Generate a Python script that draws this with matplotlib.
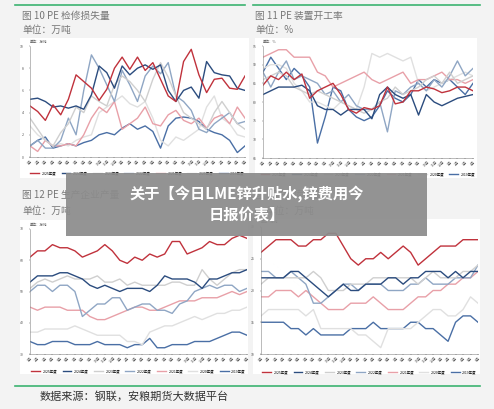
import matplotlib
matplotlib.use("Agg")
import matplotlib.pyplot as plt
import numpy as np
from matplotlib.patches import Rectangle
from matplotlib.lines import Line2D

plt.rcParams['font.family'] = ['Noto Sans CJK SC', 'DejaVu Sans']

years = ["2025年度", "2024年度", "2023年度", "2022年度", "2021年度", "2020年度", "2019年度"]
colors = ["#c0323c", "#2b4c7e", "#cfcfcf", "#8fa6c4", "#e8a0a8", "#e0e0e0", "#4a6fa5"]

tl = [
 [4.6,4.1,3.3,4.7,3.8,5.2,7.4,6.8,6.2,5.1,6.1,8.0,9.0,7.9,9.0,7.8,8.5,7.0,5.5,5.0,8.6,9.7,7.4,5.8,7.0,7.1,6.2,6.1,7.3],
 [5.2,5.3,5.0,4.5,4.6,4.4,4.6,4.3,5.6,8.2,7.6,6.2,8.2,7.4,8.0,8.3,7.9,8.3,6.0,5.0,6.0,6.3,5.3,8.6,7.6,7.4,7.3,6.2,6.0],
 [3.5,2.5,1.5,1.0,2.2,3.0,4.5,4.0,5.5,5.0,4.6,6.5,7.3,6.8,6.0,5.0,7.0,8.5,7.2,5.5,4.0,3.5,3.0,2.5,4.0,5.0,4.0,3.0,2.5],
 [1.0,1.5,0.8,0.8,1.5,3.5,2.0,6.0,9.2,8.0,6.5,5.0,7.8,6.5,5.0,7.3,8.2,7.5,8.5,5.5,5.0,4.2,2.5,2.2,3.0,3.5,4.0,3.0,3.2],
 [1.0,0.5,1.5,1.0,1.0,1.2,1.0,2.0,3.5,4.5,4.0,5.0,2.5,3.0,3.5,4.5,3.0,2.8,3.8,4.2,3.3,3.0,3.5,2.6,3.5,3.8,3.0,4.5,3.5],
 [2.8,2.0,1.5,1.0,1.2,1.0,1.5,1.8,2.0,4.0,4.5,5.0,5.5,4.8,4.5,5.0,3.5,1.5,1.0,1.8,1.5,2.0,2.5,4.5,5.5,3.5,3.0,2.0,1.8],
 [1.0,1.5,1.8,0.8,1.0,1.2,1.0,1.3,1.5,2.0,2.2,2.0,2.6,3.0,2.5,2.8,2.3,0.8,2.8,3.5,3.6,3.5,3.2,2.5,2.2,2.0,1.5,0.4,1.0],
]
tr = [
 [84.5,87,86,88,86,87.5,81,83,84,85,82,78,77,78.5,78,79,84,79.5,80,83,83,84,83.5,82.5,83,84,84,83],
 [82,83,84,84,84,84.5,83,79,78,78,76.5,78,78,78,75.5,82,84,82,81,82,76.5,82,80,79,80,81,81.5,82],
 [86,87,88,87,84,83,82,83,82,81,80,79,78,77,78,80,81,84,82,83,84,86,87,85,88,85,86,87],
 [88,84,88,91,86,87,86,85,82,83,80,82,79,78,78,80,72,83,82,84,85,83,86,84,87,91,87,89],
 [92,93,94,94,92,92,92,88,87,84,85,86,87,88,86,85,86,87,88,85,86,86,87,88,86,86,85,86],
 [89,90,90,89,85,83,80,80,79,78,80,79,78,84,93,92,93,92,91,92,85,83,84,85,86,87,88,87],
 [88,92,89,86,89,87,84,69,76,84,83,78,76,75,76,79,83,81,80,82,86,84,86,85,86,84,82,85],
]
bl = [
 [61,63,63,65,64,64,63,61,62,63,65,63,60,59,61,60,62,61,62,66,66,62,63,64,66,65,65,67,68,67],
 [53,55,55,55,56,56,55,54,52,51,52,51,50,51,51,51,50,52,55,54,54,54,53,51,54,54,55,56,56,57],
 [51,53,54,53,54,55,54,54,54,55,53,53,54,52,53,52,52,52,52,53,53,52,52,57,54,52,54,56,57,57],
 [50,52,52,50,52,52,50,42,44,46,46,48,48,44,45,46,46,44,44,43,46,47,50,51,52,51,52,52,50,51],
 [45,44,45,45,45,44,44,44,42,41,41,42,43,44,45,45,44,44,45,46,47,47,47,48,48,48,49,50,49,50],
 [37,37,38,38,38,38,39,38,37,36,36,36,36,34,34,33,37,38,39,39,40,41,42,41,42,43,43,44,44,45],
 [34,33,33,34,34,34,33,33,33,34,33,33,33,32,33,33,35,32,32,33,33,33,34,34,34,35,36,37,37,36],
]
br = [
 [26,27,28,28,28,27,27,28,28,29,29,27,25,24,25,25,26,25,26,27,26,24,25,26,27,27,27,28,28,28],
 [22,22,22,22,23,23,22,21,20,19,20,21,20,20,21,21,21,22,22,21,22,22,23,23,23,22,23,22,23,23],
 [21,22,22,22,22,22,22,23,22,20,20,20,21,21,21,22,22,22,22,22,22,21,22,23,22,22,22,23,23,24],
 [23,23,22,22,23,22,21,18,18,19,20,21,21,20,21,21,21,20,20,20,21,21,22,21,21,21,22,22,22,24],
 [19,19,20,20,20,19,20,19,18,17,17,17,18,18,18,19,18,17,17,17,18,19,19,20,20,21,21,22,22,23],
 [16,17,17,17,17,17,16,17,14,14,14,14,14,13,13,12,11,14,14,14,14,15,16,17,17,16,16,17,19,18],
 [15,15,15,15,14,14,13,14,13,13,13,13,14,14,14,15,14,14,14,14,15,15,14,14,13,12,15,16,16,15],
]

W, H = 494, 409
fig = plt.figure(figsize=(W/100, H/100), dpi=100, facecolor="#f3f3f3")

def px(x, y, w, h):
    return [x/W, 1-(y+h)/H, w/W, h/H]

fig.add_artist(Line2D([15/W, 245/W], [1-5/H, 1-5/H], color="#3cb371", lw=1.2))
fig.add_artist(Line2D([253/W, 480/W], [1-5/H, 1-5/H], color="#3cb371", lw=1.2))
fig.add_artist(Line2D([15/W, 480/W], [1-386/H, 1-386/H], color="#3cb371", lw=1.2))

tc = "#777777"
fig.text(22/W, 1-16/H, "图 10 PE 检修损失量", fontsize=7, color=tc, va="center")
fig.text(22/W, 1-30/H, "单位：万吨", fontsize=7, color=tc, va="center")
fig.text(255/W, 1-16/H, "图 11 PE 装置开工率", fontsize=7, color=tc, va="center")
fig.text(255/W, 1-30/H, "单位：%", fontsize=7, color=tc, va="center")
fig.text(22/W, 1-195/H, "图 12 PE 生产企业产量", fontsize=7, color=tc, va="center")
fig.text(22/W, 1-211/H, "单位：万吨", fontsize=7, color=tc, va="center")
fig.text(255/W, 1-195/H, "图 13 PE 库存量", fontsize=7, color=tc, va="center")
fig.text(265/W, 1-211/H, "单位：万吨", fontsize=7, color=tc, va="center")
fig.text(40/W, 1-396/H, "数据来源：钢联，安粮期货大数据平台", fontsize=8, color="#333333", va="center")

panels = [
    (tl, (20, 38, 229, 140), (30, 46, 215, 111), (0, 10), np.arange(0, 11, 2), "单位：万吨"),
    (tr, (255, 38, 222, 140), (263, 46, 210, 112), (65, 95), np.arange(65, 96, 5), "单位：%"),
    (bl, (20, 220, 228, 154), (30, 229, 217, 125), (30, 70), np.arange(30, 71, 10), "单位：万吨"),
    (br, (253, 219, 227, 155), (261, 227, 217, 127), (10, 30), np.arange(10, 31, 5), "单位：万吨"),
]

for data, box, ax_rect, ylim, yt, unit in panels:
    fig.patches.append(Rectangle((box[0]/W, 1-(box[1]+box[3])/H), box[2]/W, box[3]/H,
                             transform=fig.transFigure, facecolor="white", edgecolor="none",
                             zorder=-10, figure=fig))
    ax = fig.add_axes(px(*ax_rect))
    ax.set_facecolor("none")
    for vals, c, lab in zip(data[::-1], colors[::-1], years[::-1]):
        ax.plot(np.arange(len(vals)), vals, color=c, lw=1.0, label=lab)
    n = len(data[0])
    ax.set_xlim(0, n - 1)
    ax.set_ylim(*ylim)
    ax.set_yticks(yt)
    ax.set_xticks(np.arange(n))
    ax.set_xticklabels([f"{(i % 12) + 1}月" for i in range(n)], rotation=45, fontsize=2.5, color="#555")
    ax.tick_params(axis="y", labelsize=2.5, colors="#555", length=1, width=0.3)
    ax.tick_params(axis="x", length=1, width=0.3, pad=0.5)
    for s in ["top", "right"]:
        ax.spines[s].set_visible(False)
    for s in ["left", "bottom"]:
        ax.spines[s].set_linewidth(0.4)
        ax.spines[s].set_color("#888")
    ax.text(0, 1.02, unit, transform=ax.transAxes, fontsize=2.5, color="#555", va="bottom")
    handles = [Line2D([0], [0], color=c, lw=1.0) for c in colors]
    ax.legend(handles, years, loc="upper center", bbox_to_anchor=(0.5, -0.1), ncol=7,
              fontsize=2.5, frameon=False, handlelength=2.5, columnspacing=1.5)

fig.add_artist(Rectangle((66/W, 1-236/H), 361/W, 63/H, transform=fig.transFigure,
                         facecolor="#8c8c8c", alpha=0.93, edgecolor="none", zorder=20))
fig.text(247/W, 1-204/H, "关于【今日LME锌升贴水,锌费用今\n日报价表】", fontsize=11, fontweight="bold",
         color="white", ha="center", va="center", linespacing=1.3, zorder=21)

fig.savefig("out.png", dpi=100, facecolor=fig.get_facecolor())
